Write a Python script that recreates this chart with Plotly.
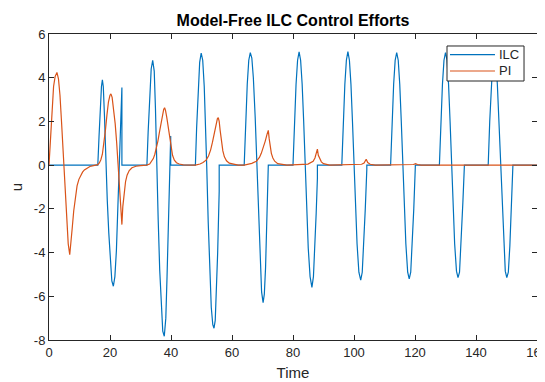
import plotly.graph_objects as go

# ---- ILC control effort ----
ilc_time = [
    0, 16.0,
    16.4, 16.8, 17.2, 17.5, 17.8, 18.2, 18.6,
    19.1, 19.6, 20.1, 20.6, 21.1, 21.6, 22.1, 22.6, 23.0, 23.4, 23.9, 23.9,
    32.1, 32.5, 33.0, 33.5, 34.0, 34.5, 34.9, 35.3,
    35.8, 36.3, 36.8, 37.3, 37.8, 38.3, 38.7, 39.1, 39.5, 39.9, 39.9,
    48.0, 48.4, 48.9, 49.4, 49.9, 50.4, 50.9, 51.3, 51.7,
    52.2, 52.7, 53.2, 53.7, 54.1, 54.5, 54.9, 55.3, 55.8, 55.8,
    64.0, 64.5, 65.0, 65.5, 66.0, 66.5, 67.0, 67.6, 68.2,
    68.7, 69.2, 69.7, 70.2, 70.6, 71.0, 71.4, 71.9, 71.9,
    80.0, 80.5, 81.0, 81.5, 82.0, 82.5, 83.0, 83.5, 84.0,
    84.5, 85.0, 85.6, 86.2, 86.7, 87.2, 87.6, 88.0, 88.0,
    96.0, 96.5, 97.0, 97.5, 98.0, 98.5, 99.0, 99.5, 100.0,
    100.5, 101.0, 101.6, 102.2, 102.7, 103.2, 103.7, 104.2, 104.2,
    112.0, 112.5, 113.0, 113.5, 114.0, 114.5, 115.0, 115.5, 116.0,
    116.5, 117.0, 117.6, 118.1, 118.6, 119.1, 119.6, 120.1, 120.1,
    128.0, 128.5, 129.0, 129.5, 130.0, 130.5, 131.0, 131.5, 132.0,
    132.5, 133.0, 133.6, 134.1, 134.6, 135.1, 135.7, 136.2,
    144.0, 144.5, 145.0, 145.5, 146.0, 146.5, 147.0, 147.5, 148.0,
    148.5, 149.0, 149.6, 150.1, 150.6, 151.1, 151.6, 152.1,
    160.0,
]
ilc_u = [
    0, 0,
    1.3, 2.6, 3.6, 3.9, 3.6, 2.2, 0,
    -1.6, -3.1, -4.4, -5.3, -5.54, -5.1, -3.9, -1.9, 0, 1.8, 3.55, 0,
    0, 1.5, 3.2, 4.4, 4.79, 4.3, 2.6, 0,
    -2.5, -4.8, -6.6, -7.6, -7.83, -7.0, -5.1, -2.6, 0, 1.33, 0,
    0, 1.7, 3.5, 4.7, 5.13, 4.8, 3.6, 2.0, 0,
    -2.6, -4.9, -6.5, -7.3, -7.46, -7.1, -5.9, -4.0, -1.2, 0,
    0, 2.0, 3.7, 4.8, 5.15, 4.9, 4.0, 2.2, 0,
    -2.5, -4.5, -5.8, -6.29, -5.9, -4.7, -3.0, -0.9, 0,
    0, 2.0, 3.7, 4.8, 5.18, 4.8, 3.7, 2.0, 0,
    -2.0, -3.8, -5.1, -5.59, -5.1, -3.7, -2.2, -0.6, 0,
    0, 2.0, 3.7, 4.8, 5.19, 4.8, 3.7, 2.0, 0,
    -1.9, -3.6, -4.9, -5.26, -4.9, -3.7, -2.0, -0.2, 0,
    0, 2.0, 3.7, 4.8, 5.15, 4.8, 3.7, 2.0, 0,
    -1.9, -3.6, -4.9, -5.2, -4.9, -3.7, -2.0, -0.1, 0,
    0, 2.0, 3.7, 4.8, 5.15, 4.8, 3.7, 2.0, 0,
    -1.9, -3.6, -4.85, -5.15, -4.9, -3.7, -1.7, 0,
    0, 2.0, 3.7, 4.8, 5.15, 4.8, 3.7, 2.0, 0,
    -1.9, -3.6, -4.85, -5.15, -4.9, -3.7, -1.7, 0,
    0,
]

# ---- PI control effort ----
pi_time = [
    0, 0.5, 1.0, 1.5, 2.0, 2.6, 3.1, 3.6, 4.1, 4.6, 4.9, 5.3, 5.8, 6.3, 6.8,
    7.2, 7.6, 8.1, 8.6, 9.2, 9.8, 10.4, 11.0, 11.6, 12.4, 13.4, 14.6, 15.8,
    16.0, 16.5, 17.0, 17.5, 18.0, 18.5, 19.0, 19.5, 20.0, 20.3, 20.7, 21.2,
    21.7, 22.2, 22.7, 23.2, 23.6, 23.9, 24.2, 24.6, 25.1, 25.6, 26.3, 27.2,
    28.5, 30.0, 32.0,
    33.0, 33.6, 34.2, 34.7, 35.2, 35.7, 36.2, 36.7, 37.2, 37.6, 37.9, 38.2,
    38.6, 39.0, 39.5, 40.0, 40.5, 41.1, 41.8, 42.7, 44.0, 48.0,
    49.5, 50.5, 51.5, 52.3, 53.0, 53.6, 54.2, 54.8, 55.2, 55.5, 55.8, 56.1,
    56.5, 57.0, 57.5, 58.2, 59.1, 60.5, 62.0,
    64.0, 65.2, 66.5, 68.0, 69.0, 69.6, 70.3, 70.9, 71.5, 71.9, 72.2, 72.5,
    72.9, 73.4, 74.0, 75.0, 76.2, 78.0,
    84.9, 86.0, 86.6, 87.2, 87.7, 88.0, 88.3, 88.8, 89.3, 90.0, 90.9, 92.0,
    102.5, 103.3, 104.0, 104.5, 105.3, 107.0,
    119.5, 120.2, 120.8, 122.0, 160.0,
]
pi_u = [
    0, 1.4, 2.7, 3.6, 4.05, 4.24, 3.95, 3.2, 2.0, 0.7, 0, -1.1, -2.5, -3.6, -4.1,
    -3.6, -2.9, -2.1, -1.45, -0.95, -0.65, -0.45, -0.32, -0.22, -0.13, -0.06, -0.02, 0,
    0.02, 0.1, 0.25, 0.5, 0.95, 1.6, 2.3, 2.9, 3.2, 3.26, 3.1, 2.6,
    1.9, 1.0, 0.0, -1.1, -2.0, -2.72, -1.9, -1.25, -0.75, -0.46, -0.25, -0.12,
    -0.05, -0.02, 0,
    0.05, 0.15, 0.3, 0.5, 0.75, 1.1, 1.5, 1.9, 2.3, 2.55, 2.63, 2.5,
    2.2, 1.8, 1.25, 0.77, 0.45, 0.23, 0.11, 0.05, 0.01, 0,
    0.05, 0.12, 0.23, 0.42, 0.7, 1.05, 1.5, 1.95, 2.12, 2.17, 2.0, 1.6,
    1.1, 0.65, 0.38, 0.2, 0.09, 0.03, 0,
    0, 0.03, 0.08, 0.18, 0.35, 0.54, 0.8, 1.1, 1.42, 1.59, 1.2, 0.85,
    0.54, 0.33, 0.18, 0.07, 0.03, 0,
    0.05, 0.12, 0.18, 0.33, 0.55, 0.73, 0.45, 0.25, 0.15, 0.07, 0.03, 0,
    0.04, 0.1, 0.27, 0.12, 0.04, 0,
    0.03, 0.07, 0.03, 0, 0,
]

series_names = ["ILC", "PI"]
series_colors = ["#0072BD", "#D95319"]

x_ticks = [0, 20, 40, 60, 80, 100, 120, 140, 160]
y_ticks = [-8, -6, -4, -2, 0, 2, 4, 6]
y_tick_labels = ["-8", "-6", "-4", "-2", "0", "2", "4", "6"]

FONT = "Liberation Sans, Arial, Helvetica, sans-serif"
AX = "#262626"

fig = go.Figure()
for name, color, xs, ys in zip(series_names, series_colors,
                               [ilc_time, pi_time], [ilc_u, pi_u]):
    fig.add_trace(go.Scatter(x=xs, y=ys, mode="lines", name=name,
                             line=dict(color=color, width=1.2)))

axis_common = dict(showline=True, linecolor=AX, linewidth=1, mirror="ticks",
                   ticks="inside", ticklen=5, tickcolor=AX, tickwidth=1,
                   showgrid=False, zeroline=False, automargin=False,
                   ticklabeloverflow="allow",
                   tickfont=dict(family=FONT, size=13, color=AX))

# MATLAB-style legend box (drawn over the lines, compact like the original)
leg_x0, leg_x1, leg_y0, leg_y1 = 0.8156, 0.9734, 0.8464, 0.9608
leg_rows = [0.9324, 0.8791]
shapes = [dict(type="rect", xref="paper", yref="paper", x0=leg_x0, x1=leg_x1,
               y0=leg_y0, y1=leg_y1, fillcolor="white",
               line=dict(color=AX, width=1), layer="above")]
annotations = []
for name, color, ry in zip(series_names, series_colors, leg_rows):
    shapes.append(dict(type="line", xref="paper", yref="paper", x0=0.8217, x1=0.9139,
                       y0=ry, y1=ry, line=dict(color=color, width=1.2), layer="above"))
    annotations.append(dict(text=name, xref="paper", yref="paper", x=0.918, y=ry,
                            xanchor="left", yanchor="middle", showarrow=False,
                            font=dict(family=FONT, size=13, color=AX)))

# the page body has an 8px margin, so the figure is drawn 8px in from the corner
W, H = 537, 374
fig.update_layout(
    width=W, height=H,
    margin=dict(l=41, r=8, t=26, b=42, autoexpand=False),
    paper_bgcolor="white", plot_bgcolor="white",
    title=dict(text="<b>Model-Free ILC Control Efforts</b>", x=0.5, xref="paper",
               y=1 - 12 / H, yref="container", yanchor="middle", xanchor="center",
               automargin=False,
               font=dict(family=FONT, size=16, color="#000000")),
    xaxis=dict(range=[0, 160], tickvals=x_ticks,
               title=dict(text="Time", standoff=8, font=dict(family=FONT, size=15, color=AX)),
               **axis_common),
    yaxis=dict(range=[-8, 6], tickvals=y_ticks, ticktext=y_tick_labels,
               title=dict(text="u", standoff=12, font=dict(family=FONT, size=15, color=AX)),
               **axis_common),
    showlegend=False,
    shapes=shapes,
    annotations=annotations,
)

fig.write_html("out.html")
